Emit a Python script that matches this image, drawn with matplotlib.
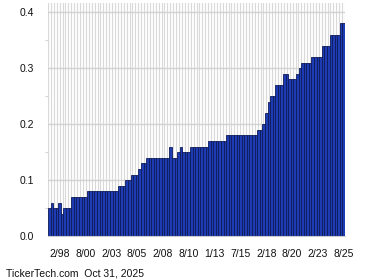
import matplotlib
matplotlib.use('Agg')
import matplotlib.pyplot as plt
import numpy as np

plt.rcParams['font.family'] = ['Liberation Sans', 'DejaVu Sans']

# quarterly dividend per share, 2/97 .. 8/25
dividends = (
    [0.05, 0.06, 0.05, 0.05, 0.06, 0.04, 0.05, 0.05, 0.05]
    + [0.07] * 6
    + [0.08] * 12
    + [0.09] * 3
    + [0.10] * 2
    + [0.11] * 3
    + [0.12]
    + [0.13] * 2
    + [0.14] * 9
    + [0.16, 0.14, 0.14, 0.15, 0.16, 0.15, 0.15, 0.15]
    + [0.16] * 7
    + [0.17] * 7
    + [0.18] * 12
    + [0.19] * 2
    + [0.20, 0.22, 0.24, 0.25, 0.25, 0.27, 0.27, 0.27, 0.29, 0.29,
       0.28, 0.28, 0.28, 0.29, 0.30]
    + [0.31] * 4
    + [0.32] * 4
    + [0.34] * 3
    + [0.36] * 4
    + [0.38] * 2
)

tick_idx = [4, 14, 24, 34, 44, 54, 64, 74, 84, 94, 104, 114]
tick_labels = ['2/98', '8/00', '2/03', '8/05', '2/08', '8/10',
               '1/13', '7/15', '2/18', '8/20', '2/23', '8/25']
y_ticks = [0.0, 0.1, 0.2, 0.3, 0.4]

fig = plt.figure(figsize=(3.8, 2.8), dpi=100)
ax = fig.add_axes([48 / 380, 1 - 236.3 / 280, 297 / 380, 233.3 / 280])

x = np.arange(len(dividends))
ax.set_xlim(-0.5, len(dividends) - 0.5)
ax.set_ylim(0, 0.4166)

# background grid: dense vertical lines plus horizontal ones
for gx in np.linspace(-0.5, len(dividends) - 0.5, 103):
    ax.axvline(gx, color='#d9d9d9', lw=0.8, zorder=0)
for gy in y_ticks[1:]:
    ax.axhline(gy, color='#d3d3d3', lw=1.0, zorder=0)

ax.bar(x, dividends, width=1.0, color='#1d3cb4', edgecolor='#0f1b58',
       linewidth=0.6, zorder=2)

ax.set_xticks(tick_idx)
ax.set_xticklabels(tick_labels)
ax.set_yticks(y_ticks)
ax.set_yticklabels([f'{v:.1f}' for v in y_ticks])
ax.set_yticks([0.05, 0.15, 0.25, 0.35], minor=True)
ax.tick_params(axis='x', length=0, pad=9, labelsize=7.5, colors='#111111')
ax.tick_params(axis='y', which='major', length=0, pad=10, labelsize=7.5,
               colors='#111111')
ax.tick_params(axis='y', which='minor', length=2, color='#cccccc')

for side in ['top', 'right', 'left']:
    ax.spines[side].set_visible(False)
ax.spines['bottom'].set_color('#cccccc')
ax.spines['bottom'].set_linewidth(0.8)

fig.text(5.5 / 380, 1 - 274 / 280, 'TickerTech.com  Oct 31, 2025',
         fontsize=7.5, color='#111111', va='center', ha='left')

fig.savefig('out.png', dpi=100)
